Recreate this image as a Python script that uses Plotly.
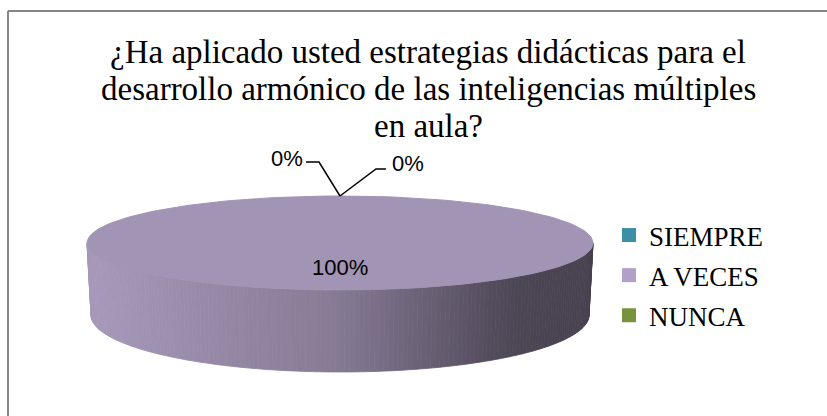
import numpy as np
import plotly.graph_objects as go

# ---- data ----
categories = ["SIEMPRE", "A VECES", "NUNCA"]
values = [0, 100, 0]
colors = ["#3D8FA6", "#A294B4", "#77933C"]
legend_colors = ["#3D8FA6", "#B1A0C7", "#77933C"]
title_lines = ["¿Ha aplicado usted estrategias didácticas para el",
               "desarrollo armónico de las inteligencias múltiples",
               "en aula?"]

W, H = 827, 416
# ---- layout geometry (pixel space) ----
cx, cy, a, b = 340.0, 243.0, 253.0, 47.0       # top ellipse
cy2, a2, b2 = 315.0, 249.0, 57.0                # bottom ellipse
label_pos = {0: (287, 158), 2: (408, 163)}      # outside labels for tiny slices
elbow = {0: [(306, 162), (319, 162)], 2: [(386, 169), (376, 169)]}
title_y = [52, 89, 126]

def hex2rgb(h):
    h = h.lstrip("#")
    return [int(h[i:i + 2], 16) for i in (0, 2, 4)]

def shade(h, f):
    r, g, bb = [min(255, int(round(c * f))) for c in hex2rgb(h)]
    return f"rgb({r},{g},{bb})"

total = float(sum(values))
fracs = [v / total for v in values]
starts = np.concatenate([[0.0], np.cumsum(fracs)[:-1]]) * 2 * np.pi
ends = np.cumsum(fracs) * 2 * np.pi

def top_pt(phi, r=1.0):
    return cx + r * a * np.sin(phi), cy - r * b * np.cos(phi)

fig = go.Figure()

# ---- side (front wall) as shaded strips ----
def slice_at(phi):
    phi = phi % (2 * np.pi)
    for i, (s, e) in enumerate(zip(starts, ends)):
        if s <= phi < e and values[i] > 0:
            return i
    return int(np.argmax(values))

N = 160
thetas = np.linspace(0, np.pi, N + 1)  # 0 = right, pi = left (y down)
fx = [0.0, 0.5, 0.85, 1.0]
fy = [1.03, 0.82, 0.47, 0.44]
for k in range(N):
    t0, t1 = thetas[k], thetas[k + 1]
    tt = np.linspace(t0, t1, 3)
    xs_top = cx + a * np.cos(tt)
    ys_top = cy + b * np.sin(tt)
    xs_bot = cx + a2 * np.cos(tt[::-1])
    ys_bot = cy2 + b2 * np.sin(tt[::-1])
    xm = cx + a * np.cos((t0 + t1) / 2)
    u = (xm - (cx - a)) / (2 * a)
    f = np.interp(u, fx, fy)
    phi = np.pi / 2 + (t0 + t1) / 2
    col = shade(colors[slice_at(phi)], f)
    fig.add_trace(go.Scatter(
        x=list(xs_top) + list(xs_bot) + [xs_top[0]],
        y=list(ys_top) + list(ys_bot) + [ys_top[0]],
        mode="lines", fill="toself", fillcolor=col,
        line=dict(color=col, width=0.8), hoverinfo="skip", showlegend=False))

# ---- top faces ----
for i, v in enumerate(values):
    if v <= 0:
        continue
    ph = np.linspace(starts[i], ends[i], 200)
    xs, ys = top_pt(ph)
    xs, ys = list(xs), list(ys)
    if fracs[i] < 1:
        xs = [cx] + xs + [cx]
        ys = [cy] + ys + [cy]
    fig.add_trace(go.Scatter(x=xs, y=ys, mode="lines", fill="toself",
                             fillcolor=colors[i], line=dict(color=colors[i], width=1),
                             hoverinfo="skip", showlegend=False))

# ---- data labels ----
lab_font = dict(family="Liberation Sans, Arial", size=22, color="#000")
for i, v in enumerate(values):
    pct = f"{v / total * 100:.0f}%"
    mid = (starts[i] + ends[i]) / 2
    if v > 0:
        lx, ly = top_pt(mid, 0.53)
        fig.add_annotation(x=lx, y=ly, text=pct, showarrow=False, font=lab_font)
    else:
        px, py = top_pt(mid)
        pts = elbow[i] + [(px, py)]
        fig.add_trace(go.Scatter(x=[p[0] for p in pts], y=[p[1] for p in pts], mode="lines",
                                 line=dict(color="#000", width=1.5), hoverinfo="skip",
                                 showlegend=False))
        fig.add_annotation(x=label_pos[i][0], y=label_pos[i][1], text=pct,
                           showarrow=False, font=lab_font)

# ---- title ----
for line, ty in zip(title_lines, title_y):
    fig.add_annotation(x=428, y=ty, text=line, showarrow=False, xanchor="center",
                       yanchor="middle",
                       font=dict(family="Liberation Serif, Times New Roman", size=33,
                                 color="#000"))

# ---- legend entries ----
for i, c in enumerate(categories):
    fig.add_trace(go.Scatter(x=[None], y=[None], mode="markers", name=c,
                             legendgroup=c,
                             marker=dict(symbol="square", size=14, color=legend_colors[i])))

# ---- frame ----
fig.add_shape(type="line", x0=8, x1=W, y0=11, y1=11, line=dict(color="#868686", width=2))
fig.add_shape(type="line", x0=8, x1=8, y0=11, y1=H, line=dict(color="#868686", width=2))

fig.update_layout(
    width=W, height=H,
    margin=dict(l=0, r=0, t=0, b=0),
    paper_bgcolor="white", plot_bgcolor="white",
    xaxis=dict(range=[0, W], visible=False, fixedrange=True),
    yaxis=dict(range=[H, 0], visible=False, fixedrange=True),
    legend=dict(x=609 / W, xanchor="left", y=1 - 211 / H, yanchor="top",
                font=dict(family="Liberation Serif, Times New Roman", size=27, color="#000"),
                tracegroupgap=2, bgcolor="rgba(0,0,0,0)"),
    showlegend=True,
)

fig.write_html("out.html", config={"displayModeBar": False},
               post_script="document.body.style.margin='0';document.body.style.overflow='hidden';")
